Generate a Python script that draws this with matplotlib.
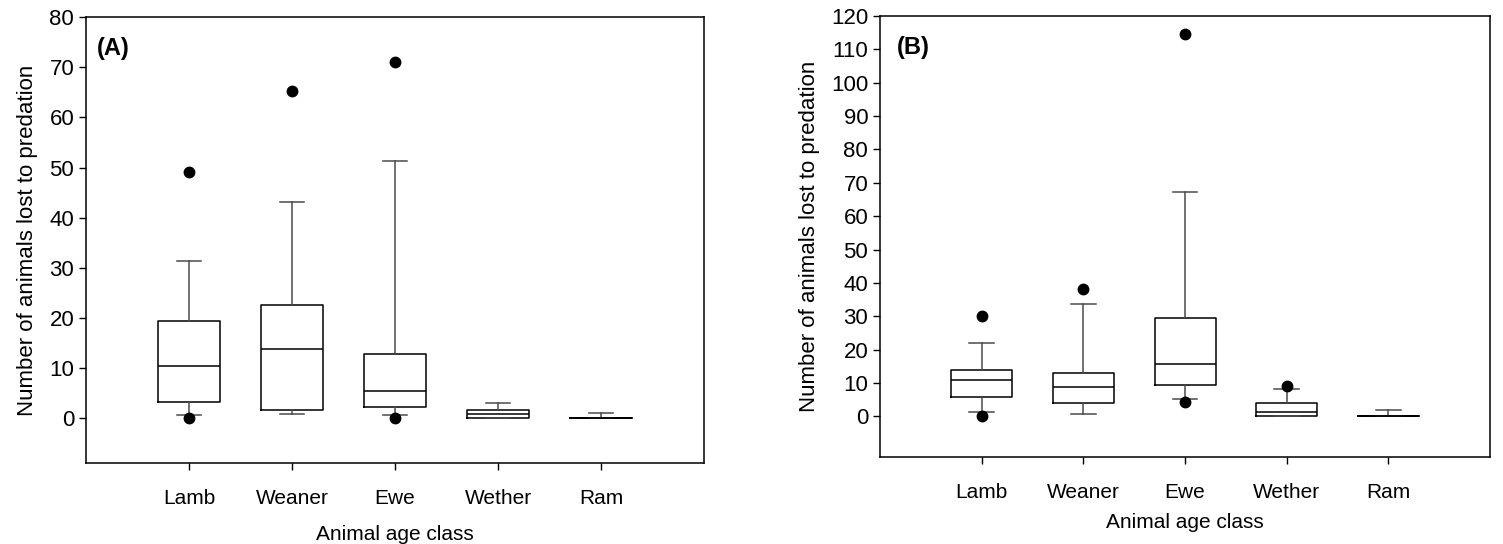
import matplotlib
matplotlib.use("Agg")
import matplotlib.pyplot as plt

plt.rcParams['font.family'] = ['Liberation Sans', 'DejaVu Sans']

categories = ["Lamb", "Weaner", "Ewe", "Wether", "Ram"]

# Panel A statistics
a_whislo = [0.7, 0.9, 0.6, 0.0, 0.0]
a_q1 = [3.2, 1.7, 2.2, 0.0, 0.0]
a_med = [10.4, 13.9, 5.4, 0.9, 0.0]
a_q3 = [19.4, 22.6, 12.9, 1.7, 0.0]
a_whishi = [31.4, 43.2, 51.3, 3.0, 1.0]
a_fliers = [[49.2, 0.1], [65.2], [71.1, 0.1], [], []]

# Panel B statistics
b_whislo = [1.3, 0.8, 5.1, 0.0, 0.0]
b_q1 = [5.8, 4.1, 9.3, 0.2, 0.0]
b_med = [10.8, 8.8, 15.8, 1.3, 0.0]
b_q3 = [13.8, 12.9, 29.4, 4.0, 0.0]
b_whishi = [22.1, 33.6, 67.1, 8.2, 2.0]
b_fliers = [[30.2, 0.1], [38.1], [114.5, 4.3], [9.2], []]

a_yticks = list(range(0, 81, 10))
b_yticks = list(range(0, 121, 10))


def make_stats(lo, q1, med, q3, hi, fl):
    return [dict(whislo=lo[i], q1=q1[i], med=med[i], q3=q3[i], whishi=hi[i],
                 fliers=fl[i], label=categories[i]) for i in range(len(categories))]


fig = plt.figure(figsize=(15.03, 5.44), dpi=100)
W, H = 1503, 544
axA = fig.add_axes([86 / W, 1 - 463 / H, 618 / W, 446 / H])
axB = fig.add_axes([880 / W, 1 - 457 / H, 610 / W, 441 / H])

box_style = dict(color='black', linewidth=1.1)
wh_style = dict(color='#4a4a4a', linewidth=1.1)
flier_style = dict(marker='o', markerfacecolor='black', markeredgecolor='black',
                   markersize=7.5, linestyle='none')

for ax, stats, yt, ylim, lab, lx, ly, xpad in [
    (axA, make_stats(a_whislo, a_q1, a_med, a_q3, a_whishi, a_fliers), a_yticks, (-8.9, 80), "(A)", 0.018, 0.93, 12),
    (axB, make_stats(b_whislo, b_q1, b_med, b_q3, b_whishi, b_fliers), b_yticks, (-12.2, 120), "(B)", 0.028, 0.928, 8),
]:
    ax.bxp(stats, positions=range(1, 6), widths=0.6, capwidths=0.24,
           showfliers=True, boxprops=box_style, medianprops=box_style,
           whiskerprops=wh_style, capprops=wh_style, flierprops=flier_style)
    ax.set_xlim(0, 6)
    ax.set_ylim(*ylim)
    ax.set_yticks(yt)
    ax.set_xticks(range(1, 6))
    ax.set_xticklabels(categories)
    ax.tick_params(axis='both', direction='out', length=5, width=1.0, colors='black')
    ax.tick_params(axis='y', labelsize=16)
    ax.tick_params(axis='x', labelsize=15, pad=14)
    ax.set_xlabel("Animal age class", fontsize=15, labelpad=xpad)
    ax.set_ylabel("Number of animals lost to predation", fontsize=16, labelpad=8)
    for s in ax.spines.values():
        s.set_linewidth(1.1)
        s.set_color('black')
    ax.text(lx, ly, lab, transform=ax.transAxes, fontsize=17, fontweight='bold',
            ha='left', va='center')

fig.savefig("out.png", dpi=100)
